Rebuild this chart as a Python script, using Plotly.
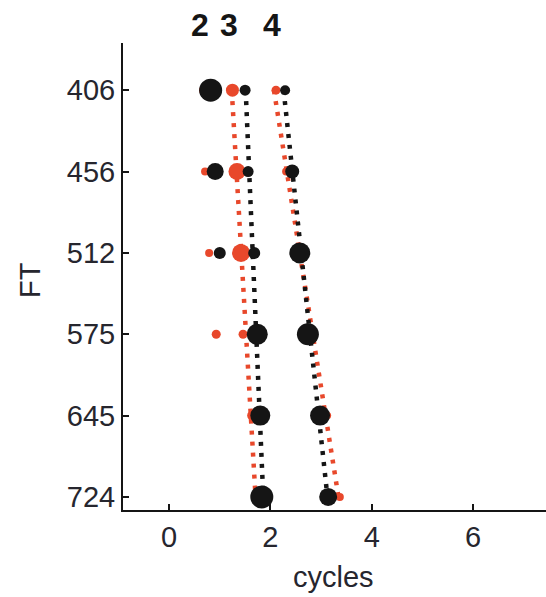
import numpy as np
import plotly.graph_objects as go

# FT categories (top to bottom) and cycle positions of each response peak
ft_labels = ["406", "456", "512", "575", "645", "724"]

red2_x = [0.67, 0.71, 0.79, 0.93]
red2_size = [8, 8, 8, 9]
black2_x = [0.82, 0.91, 1.00]
black2_size = [23, 17, 12]

red3_x = [1.25, 1.34, 1.42, 1.46, 1.64, 1.72]
red3_size = [13, 17, 18, 9, 10, 8]
black3_x = [1.50, 1.56, 1.68, 1.74, 1.80, 1.83]
black3_size = [11, 11, 12, 21, 20, 23]

red4_x = [2.11, 2.31, 2.58, 2.74, 3.13, 3.37]
red4_size = [9, 8, 8, 8, 7, 8]
black4_x = [2.29, 2.43, 2.58, 2.74, 2.98, 3.14]
black4_size = [10, 14, 21, 22, 20, 18]

column_labels = ["2", "3", "4"]
column_label_x = [0.61, 1.18, 2.03]

x_ticks = [0, 2, 4, 6]

RED = "#e8482b"
BLACK = "#151515"
TEXT = "#26262e"
FONT = "Liberation Sans, Arial, sans-serif"

# plot-area geometry in pixels, used to place the free-standing labels
TOP, BOTTOM = 43, 510
H = BOTTOM - TOP

rows = np.arange(len(ft_labels))

fig = go.Figure()

# linear fits of peak position versus FT row, drawn as dotted lines
for xs, color in [(red3_x, RED), (black3_x, BLACK), (red4_x, RED), (black4_x, BLACK)]:
    idx = rows[: len(xs)]
    slope, icpt = np.polyfit(idx, xs, 1)
    fit_y = np.array([idx[0], idx[-1]], dtype=float)
    fig.add_trace(go.Scatter(
        x=slope * fit_y + icpt, y=fit_y, mode="lines",
        line=dict(color=color, width=4.5, dash="4px,7px"),
        hoverinfo="skip", showlegend=False,
    ))

# peak markers: red first, black on top
for xs, sizes, color in [
    (red2_x, red2_size, RED), (red3_x, red3_size, RED), (red4_x, red4_size, RED),
    (black2_x, black2_size, BLACK), (black3_x, black3_size, BLACK), (black4_x, black4_size, BLACK),
]:
    fig.add_trace(go.Scatter(
        x=xs, y=rows[: len(xs)], mode="markers",
        marker=dict(color=color, size=sizes, opacity=1, line=dict(width=0)),
        showlegend=False,
    ))

annotations = [
    dict(text=t, x=xv, y=1 + (TOP - 25) / H, xref="x", yref="paper",
         xanchor="center", yanchor="middle", showarrow=False,
         font=dict(family=FONT, size=32, color=BLACK, weight="bold"))
    for t, xv in zip(column_labels, column_label_x)
]
annotations.append(dict(text="FT", x=0, xshift=-93, y=1 - (280 - TOP) / H,
                        xref="paper", yref="paper", xanchor="center", yanchor="middle",
                        textangle=-90, showarrow=False,
                        font=dict(family=FONT, size=29, color=TEXT)))
annotations.append(dict(text="cycles", x=3.24, y=-(577 - BOTTOM) / H,
                        xref="x", yref="paper", xanchor="center", yanchor="middle",
                        showarrow=False, font=dict(family=FONT, size=29, color=TEXT)))

fig.update_layout(
    width=546, height=597,
    margin=dict(l=123, r=0, t=TOP, b=597 - BOTTOM),
    paper_bgcolor="white", plot_bgcolor="white",
    annotations=annotations,
    xaxis=dict(
        range=[-0.91, 7.44], tickvals=x_ticks, ticks="inside", ticklen=6,
        tickwidth=1.5, tickcolor=BLACK, showline=True, linecolor=BLACK, linewidth=2,
        showgrid=False, zeroline=False,
        tickfont=dict(family=FONT, size=29, color=TEXT),
    ),
    yaxis=dict(
        range=[5.16, -0.58], tickvals=list(rows), ticktext=ft_labels,
        ticks="inside", ticklen=6, tickwidth=1.5, tickcolor=BLACK,
        showline=True, linecolor=BLACK, linewidth=2,
        showgrid=False, zeroline=False,
        tickfont=dict(family=FONT, size=29, color=TEXT),
    ),
)

fig.write_html("out.html")
